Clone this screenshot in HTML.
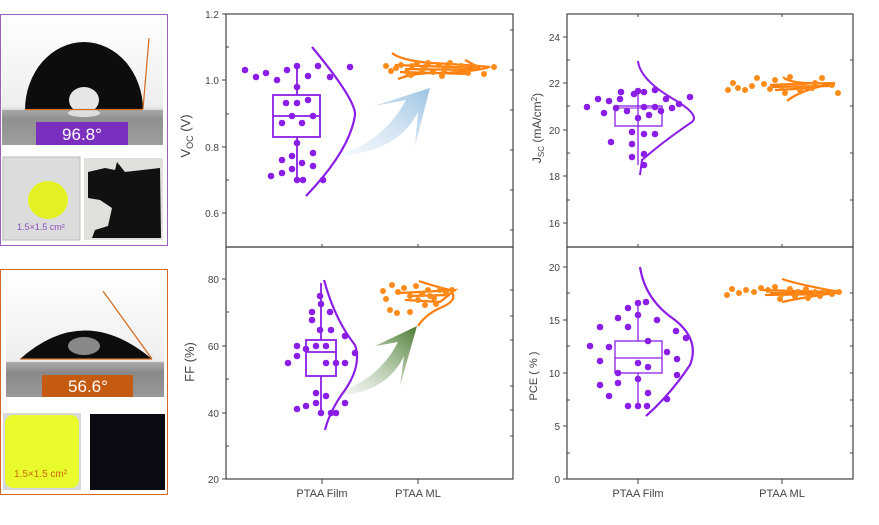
<!DOCTYPE html>
<html><head><meta charset="utf-8"><style>
body{margin:0;width:879px;height:520px;background:#fff;overflow:hidden;font-family:"Liberation Sans",sans-serif}
</style></head><body>
<svg width="879" height="520" viewBox="0 0 879 520" xmlns="http://www.w3.org/2000/svg" font-family="Liberation Sans, sans-serif">
<defs>
<linearGradient id="bl" x1="0" y1="1" x2="1" y2="0"><stop offset="0" stop-color="#dbe9f5" stop-opacity="0.3"/><stop offset="1" stop-color="#9cc3e3"/></linearGradient>
<linearGradient id="gr" x1="0" y1="1" x2="1" y2="0"><stop offset="0" stop-color="#e8eee6" stop-opacity="0.3"/><stop offset="1" stop-color="#4a7a30"/></linearGradient>
<linearGradient id="bg1" x1="0" y1="0" x2="0" y2="1"><stop offset="0" stop-color="#fff"/><stop offset="0.7" stop-color="#eee"/><stop offset="0.8" stop-color="#999"/><stop offset="1" stop-color="#bbb"/></linearGradient>
</defs>

<rect x="0.5" y="14.5" width="167" height="231" fill="#fff" stroke="#9a5fc4"/>
<rect x="2" y="16" width="161" height="129" fill="url(#bg1)"/>
<path d="M25 110 A59 68 0 0 1 143 110 Z" fill="#0d0d0d"/>
<ellipse cx="84" cy="100" rx="15" ry="13" fill="#e6e6e6"/>
<rect x="2" y="110" width="161" height="35" fill="#8a8a8a" opacity="0.6"/>
<ellipse cx="84" cy="113" rx="16" ry="4" fill="#ddd"/>
<line x1="25" y1="109.5" x2="143" y2="109.5" stroke="#d2691e" stroke-width="1.2"/>
<line x1="143" y1="109" x2="149" y2="38" stroke="#d2691e" stroke-width="1.2"/>
<rect x="36" y="122" width="92" height="23" fill="#7b2fbe"/>
<text x="82" y="140" font-size="17" fill="#fff" text-anchor="middle">96.8°</text>
<rect x="3" y="157" width="77" height="83" fill="#dcdcdc" stroke="#bbb"/>
<ellipse cx="48" cy="200" rx="20" ry="19" fill="#e5f024"/>
<text x="17" y="230" font-size="9" fill="#8a4fc0">1.5×1.5 cm²</text>
<rect x="84" y="158" width="79" height="82" fill="#e2e0dc"/>
<path d="M88 172 L105 168 L115 170 L117 162 L125 172 L160 168 L161 238 L92 238 L95 230 L108 226 L112 208 L100 200 L88 198Z" fill="#111"/>

<rect x="0.5" y="269.5" width="167" height="225" fill="#fff" stroke="#d2691e"/>
<rect x="6" y="275" width="158" height="122" fill="url(#bg1)"/>
<path d="M20 359 Q84 302 152 359 Z" fill="#0d0d0d"/>
<ellipse cx="84" cy="346" rx="16" ry="9" fill="#888"/>
<rect x="6" y="362" width="158" height="35" fill="#777" opacity="0.5"/>
<line x1="20" y1="359" x2="152" y2="359" stroke="#d2691e" stroke-width="1.2"/>
<line x1="152" y1="359" x2="103" y2="291" stroke="#d2691e" stroke-width="1.2"/>
<rect x="42" y="375" width="91" height="22" fill="#c55a11"/>
<text x="88" y="392" font-size="17" fill="#fff" text-anchor="middle">56.6°</text>
<rect x="3" y="413" width="78" height="77" fill="#d8d8d8"/>
<rect x="5" y="415" width="74" height="73" rx="8" fill="#e9fb2c"/>
<text x="14" y="477" font-size="10" fill="#c96a10">1.5×1.5 cm²</text>
<rect x="90" y="414" width="75" height="76" fill="#0b0b14"/>

<g fill="none" stroke="#444" stroke-width="1.2">
<rect x="226" y="14" width="287" height="233"/>
<rect x="226" y="247" width="287" height="232"/>
<rect x="567" y="14" width="286" height="233"/>
<rect x="567" y="247" width="286" height="232"/>
</g>
<g stroke="#444" stroke-width="1">
<path d="M222 14h4M222 80h4M222 147h4M222 213h4M226 47h3M226 114h3M226 180h3M510 30h3M510 70h3M510 110h3M510 150h3M510 190h3M510 230h3"/>
<path d="M222 279h4M222 346h4M222 413h4M222 479h4M226 312h3M226 379h3M226 446h3M510 290h3M510 316h3M510 340h3M510 386h3M510 410h3M510 436h3"/>
<path d="M322 479v5M418 479v5M322 247v-3M418 247v-3"/>
<path d="M563 37h4M563 83h4M563 130h4M563 176h4M563 223h4M567 60h3M567 106h3M567 153h3M567 200h3M850 60h3M850 106h3M850 153h3M850 200h3"/>
<path d="M563 267h4M563 320h4M563 373h4M563 426h4M563 479h4M567 293h3M567 346h3M567 400h3M567 453h3M850 293h3M850 320h3M850 346h3M850 373h3M850 400h3M850 426h3M850 453h3"/>
<path d="M638 479v5M782 479v5M638 247v-3M782 247v-3M638 14v3M782 14v3"/>
</g>
<g font-size="10" fill="#444" text-anchor="end">
<text x="219" y="18">1.2</text><text x="219" y="84">1.0</text><text x="219" y="151">0.8</text><text x="219" y="217">0.6</text>
<text x="219" y="283">80</text><text x="219" y="350">60</text><text x="219" y="417">40</text><text x="219" y="483">20</text>
<text x="560" y="41">24</text><text x="560" y="87">22</text><text x="560" y="134">20</text><text x="560" y="180">18</text><text x="560" y="227">16</text>
<text x="560" y="271">20</text><text x="560" y="324">15</text><text x="560" y="377">10</text><text x="560" y="430">5</text><text x="560" y="483">0</text>
</g>
<g font-size="11" fill="#444" text-anchor="middle">
<text x="322" y="497">PTAA Film</text><text x="418" y="497">PTAA ML</text>
<text x="638" y="497">PTAA Film</text><text x="782" y="497">PTAA ML</text>
</g>
<text transform="translate(190,136) rotate(-90)" font-size="13" fill="#444" text-anchor="middle">V<tspan font-size="9" dy="3">OC</tspan><tspan dy="-3"> (V)</tspan></text>
<text transform="translate(194,362) rotate(-90)" font-size="13" fill="#444" text-anchor="middle">FF (%)</text>
<text transform="translate(541,128) rotate(-90)" font-size="12" fill="#444" text-anchor="middle">J<tspan font-size="8" dy="3">SC</tspan><tspan dy="-3"> (mA/cm</tspan><tspan font-size="8" dy="-4">2</tspan><tspan dy="4">)</tspan></text>
<text transform="translate(537,376) rotate(-90)" font-size="11" fill="#444" text-anchor="middle">PCE ( % )</text>

<path d="M338 156 Q385 140 406 100 L374 106 L430 88 L415 146 L418 112 Q398 152 338 156Z" fill="url(#bl)"/>
<path d="M328 396 Q378 382 398 342 L375 346 L417 326 L400 386 L404 356 Q385 396 328 396Z" fill="url(#gr)"/>

<g stroke="#8b1ee6" stroke-width="1.8" fill="none">
<rect x="273" y="95" width="47" height="42"/><line x1="273" y1="116" x2="320" y2="116"/>
<line x1="297" y1="66" x2="297" y2="95"/><line x1="297" y1="137" x2="297" y2="180"/>
<path d="M312 47 Q356 100 355 115 Q350 150 306 196" stroke-width="2.2"/>
<path d="M638 61 Q640 80 675 100 Q700 115 692 122 Q665 140 642 160 L640 175" stroke-width="2"/>
<rect x="615" y="106" width="47" height="20" stroke-width="1.3"/><line x1="615" y1="108" x2="662" y2="108" stroke-width="1"/>
<line x1="638" y1="92" x2="638" y2="165" stroke-width="1.3"/>
<rect x="306" y="340" width="30" height="36"/><line x1="306" y1="352" x2="336" y2="352"/>
<line x1="321" y1="283" x2="321" y2="340"/><line x1="321" y1="376" x2="321" y2="413"/>
<path d="M324 280 Q335 320 355 345 Q362 365 345 390 Q330 410 325 430" stroke-width="2.2"/>
<rect x="615" y="341" width="47" height="32" stroke-width="1.3"/><line x1="615" y1="358" x2="662" y2="358" stroke-width="1.3"/>
<line x1="638" y1="303" x2="638" y2="341" stroke-width="1.3"/><line x1="638" y1="373" x2="638" y2="406" stroke-width="1.3"/>
<path d="M640 267 Q645 300 675 320 Q700 340 690 365 Q670 395 646 416" stroke-width="2.2"/>
</g>
<g fill="#8b1ee6">
<circle cx="245" cy="70" r="3.3"/><circle cx="256" cy="77" r="3.3"/><circle cx="266" cy="73" r="3.3"/><circle cx="277" cy="80" r="3.3"/><circle cx="287" cy="70" r="3.3"/><circle cx="297" cy="66" r="3.3"/><circle cx="308" cy="76" r="3.3"/><circle cx="318" cy="66" r="3.3"/><circle cx="330" cy="77" r="3.3"/><circle cx="350" cy="67" r="3.3"/><circle cx="297" cy="87" r="3.3"/>
<circle cx="286" cy="103" r="3.3"/><circle cx="297" cy="103" r="3.3"/><circle cx="308" cy="100" r="3.3"/><circle cx="292" cy="116" r="3.3"/><circle cx="313" cy="116" r="3.3"/><circle cx="282" cy="123" r="3.3"/><circle cx="302" cy="123" r="3.3"/>
<circle cx="297" cy="143" r="3.3"/><circle cx="313" cy="153" r="3.3"/><circle cx="282" cy="160" r="3.3"/><circle cx="292" cy="156" r="3.3"/><circle cx="302" cy="163" r="3.3"/><circle cx="313" cy="166" r="3.3"/><circle cx="292" cy="169" r="3.3"/><circle cx="282" cy="173" r="3.3"/><circle cx="271" cy="176" r="3.3"/><circle cx="297" cy="180" r="3.3"/><circle cx="303" cy="180" r="3.3"/><circle cx="323" cy="180" r="3.3"/>
<circle cx="320" cy="296" r="3.3"/><circle cx="321" cy="304" r="3.3"/><circle cx="312" cy="312" r="3.3"/><circle cx="312" cy="320" r="3.3"/><circle cx="330" cy="312" r="3.3"/><circle cx="320" cy="330" r="3.3"/><circle cx="331" cy="330" r="3.3"/><circle cx="345" cy="336" r="3.3"/><circle cx="297" cy="346" r="3.3"/><circle cx="306" cy="349" r="3.3"/><circle cx="316" cy="346" r="3.3"/><circle cx="326" cy="346" r="3.3"/><circle cx="297" cy="356" r="3.3"/><circle cx="288" cy="363" r="3.3"/><circle cx="326" cy="363" r="3.3"/><circle cx="336" cy="363" r="3.3"/><circle cx="345" cy="363" r="3.3"/><circle cx="355" cy="353" r="3.3"/><circle cx="316" cy="393" r="3.3"/><circle cx="326" cy="396" r="3.3"/><circle cx="345" cy="403" r="3.3"/><circle cx="316" cy="403" r="3.3"/><circle cx="306" cy="406" r="3.3"/><circle cx="297" cy="409" r="3.3"/><circle cx="321" cy="413" r="3.3"/><circle cx="331" cy="413" r="3.3"/><circle cx="336" cy="413" r="3.3"/>
<circle cx="587" cy="107" r="3.3"/><circle cx="598" cy="99" r="3.3"/><circle cx="609" cy="101" r="3.3"/><circle cx="621" cy="92" r="3.3"/><circle cx="620" cy="99" r="3.3"/><circle cx="604" cy="113" r="3.3"/><circle cx="616" cy="108" r="3.3"/><circle cx="634" cy="94" r="3.3"/><circle cx="638" cy="91" r="3.3"/><circle cx="644" cy="92" r="3.3"/><circle cx="655" cy="90" r="3.3"/><circle cx="666" cy="99" r="3.3"/><circle cx="690" cy="97" r="3.3"/><circle cx="679" cy="104" r="3.3"/><circle cx="672" cy="108" r="3.3"/><circle cx="627" cy="111" r="3.3"/><circle cx="644" cy="107" r="3.3"/><circle cx="655" cy="107" r="3.3"/><circle cx="661" cy="111" r="3.3"/><circle cx="638" cy="118" r="3.3"/><circle cx="649" cy="115" r="3.3"/><circle cx="632" cy="132" r="3.3"/><circle cx="644" cy="134" r="3.3"/><circle cx="655" cy="134" r="3.3"/><circle cx="611" cy="142" r="3.3"/><circle cx="632" cy="144" r="3.3"/><circle cx="632" cy="157" r="3.3"/><circle cx="644" cy="154" r="3.3"/><circle cx="644" cy="165" r="3.3"/>
<circle cx="646" cy="302" r="3.3"/><circle cx="638" cy="303" r="3.3"/><circle cx="628" cy="308" r="3.3"/><circle cx="618" cy="318" r="3.3"/><circle cx="638" cy="315" r="3.3"/><circle cx="657" cy="320" r="3.3"/><circle cx="600" cy="327" r="3.3"/><circle cx="628" cy="327" r="3.3"/><circle cx="676" cy="331" r="3.3"/><circle cx="686" cy="338" r="3.3"/><circle cx="590" cy="346" r="3.3"/><circle cx="609" cy="347" r="3.3"/><circle cx="648" cy="341" r="3.3"/><circle cx="667" cy="352" r="3.3"/><circle cx="600" cy="361" r="3.3"/><circle cx="638" cy="363" r="3.3"/><circle cx="677" cy="359" r="3.3"/><circle cx="648" cy="367" r="3.3"/><circle cx="618" cy="373" r="3.3"/><circle cx="677" cy="375" r="3.3"/><circle cx="638" cy="379" r="3.3"/><circle cx="600" cy="385" r="3.3"/><circle cx="618" cy="383" r="3.3"/><circle cx="609" cy="396" r="3.3"/><circle cx="648" cy="393" r="3.3"/><circle cx="667" cy="399" r="3.3"/><circle cx="628" cy="406" r="3.3"/><circle cx="638" cy="406" r="3.3"/><circle cx="647" cy="406" r="3.3"/>
</g>

<g stroke="#ff7f0e" stroke-width="2.2" fill="none">
<path d="M392 53 Q400 60 430 63 Q455 64 490 67 Q470 73 430 73 Q410 74 398 79"/>
<path d="M395 65 L480 68 L465 60 M400 72 L470 74 M405 69 L475 70"/>
<path d="M419 281 Q430 285 450 290 Q460 300 440 308 Q425 315 418 326"/>
<path d="M400 293 L455 290 L440 302 L405 300 M410 296 L450 295"/>
<path d="M783 77 Q790 85 835 83 Q800 90 787 101"/>
<path d="M770 85 L820 83 M775 90 L815 88 M772 87 L830 86"/>
<path d="M782 279 Q800 285 840 292 Q800 298 782 302"/>
<path d="M760 290 L835 292 M765 295 L830 294 M770 293 L838 293"/>
</g>
<g fill="#ff8c1a">
<circle cx="386" cy="66" r="3"/><circle cx="391" cy="71" r="3"/><circle cx="396" cy="68" r="3"/><circle cx="401" cy="65" r="3"/><circle cx="407" cy="72" r="3"/><circle cx="412" cy="66" r="3"/><circle cx="417" cy="63" r="3"/><circle cx="422" cy="70" r="3"/><circle cx="428" cy="63" r="3"/><circle cx="433" cy="72" r="3"/><circle cx="439" cy="65" r="3"/><circle cx="444" cy="70" r="3"/><circle cx="450" cy="63" r="3"/><circle cx="455" cy="70" r="3"/><circle cx="461" cy="66" r="3"/><circle cx="468" cy="73" r="3"/><circle cx="475" cy="67" r="3"/><circle cx="484" cy="74" r="3"/><circle cx="494" cy="67" r="3"/><circle cx="411" cy="75" r="3"/><circle cx="442" cy="76" r="3"/><circle cx="425" cy="67" r="3"/><circle cx="447" cy="67" r="3"/>
<circle cx="383" cy="291" r="3"/><circle cx="386" cy="299" r="3"/><circle cx="392" cy="285" r="3"/><circle cx="398" cy="292" r="3"/><circle cx="404" cy="288" r="3"/><circle cx="410" cy="296" r="3"/><circle cx="416" cy="286" r="3"/><circle cx="422" cy="294" r="3"/><circle cx="428" cy="290" r="3"/><circle cx="434" cy="298" r="3"/><circle cx="440" cy="290" r="3"/><circle cx="446" cy="293" r="3"/><circle cx="452" cy="290" r="3"/><circle cx="390" cy="310" r="3"/><circle cx="397" cy="313" r="3"/><circle cx="410" cy="312" r="3"/><circle cx="425" cy="305" r="3"/><circle cx="436" cy="304" r="3"/><circle cx="418" cy="300" r="3"/><circle cx="430" cy="296" r="3"/>
<circle cx="728" cy="90" r="3"/><circle cx="733" cy="83" r="3"/><circle cx="738" cy="88" r="3"/><circle cx="745" cy="90" r="3"/><circle cx="752" cy="86" r="3"/><circle cx="757" cy="78" r="3"/><circle cx="764" cy="84" r="3"/><circle cx="770" cy="89" r="3"/><circle cx="775" cy="80" r="3"/><circle cx="782" cy="86" r="3"/><circle cx="790" cy="77" r="3"/><circle cx="796" cy="84" r="3"/><circle cx="804" cy="86" r="3"/><circle cx="812" cy="88" r="3"/><circle cx="822" cy="78" r="3"/><circle cx="832" cy="85" r="3"/><circle cx="838" cy="93" r="3"/><circle cx="785" cy="93" r="3"/><circle cx="800" cy="90" r="3"/><circle cx="815" cy="83" r="3"/>
<circle cx="727" cy="295" r="3"/><circle cx="732" cy="289" r="3"/><circle cx="739" cy="293" r="3"/><circle cx="746" cy="290" r="3"/><circle cx="754" cy="292" r="3"/><circle cx="761" cy="288" r="3"/><circle cx="768" cy="290" r="3"/><circle cx="775" cy="287" r="3"/><circle cx="782" cy="294" r="3"/><circle cx="790" cy="289" r="3"/><circle cx="798" cy="292" r="3"/><circle cx="806" cy="289" r="3"/><circle cx="815" cy="292" r="3"/><circle cx="824" cy="291" r="3"/><circle cx="832" cy="294" r="3"/><circle cx="839" cy="292" r="3"/><circle cx="780" cy="299" r="3"/><circle cx="808" cy="298" r="3"/><circle cx="795" cy="296" r="3"/><circle cx="820" cy="296" r="3"/>
</g>
</svg>
</body></html>
